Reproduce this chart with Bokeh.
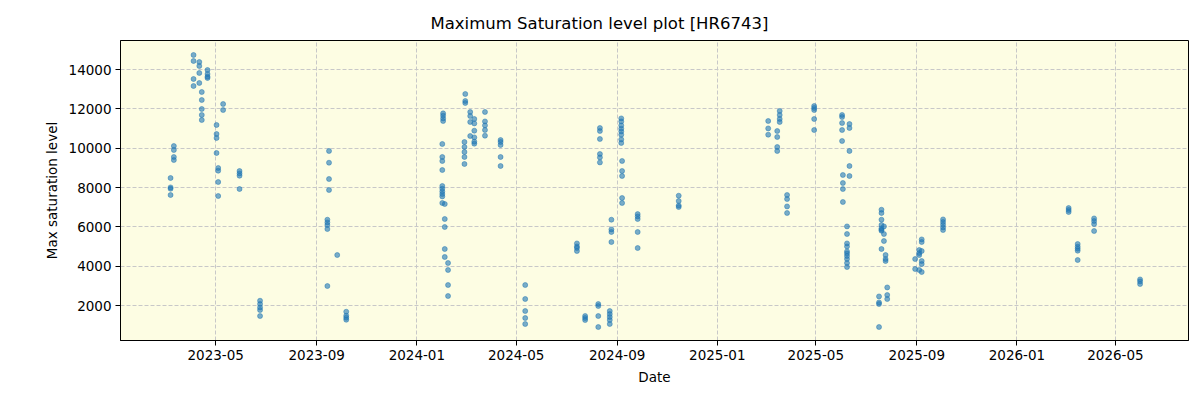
from datetime import datetime

from bokeh.plotting import figure
from bokeh.models import (ColumnDataSource, DatetimeTickFormatter, MonthsTicker,
                          FixedTicker, Range1d, Title)
from bokeh.embed import file_html
from bokeh.resources import INLINE

# Observation dates and their maximum saturation levels
dates = (
    ["2023-03-07"] * 4 + ["2023-03-11"] * 4 + ["2023-04-04"] * 4 + ["2023-04-11"] * 4
    + ["2023-04-14"] * 5 + ["2023-04-21"] * 4 + ["2023-05-02"] * 4 + ["2023-05-04"] * 4
    + ["2023-05-10"] * 2 + ["2023-05-30"] * 4 + ["2023-06-24"] * 5
    + ["2023-09-14"] * 5 + ["2023-09-16"] * 4 + ["2023-09-26"] + ["2023-10-07"] * 4
    + ["2024-02-01"] * 10 + ["2024-02-02"] * 4 + ["2024-02-04"] * 5 + ["2024-02-08"] * 4
    + ["2024-02-28"] * 5 + ["2024-02-29"] * 3 + ["2024-03-06"] * 4 + ["2024-03-11"] * 6
    + ["2024-03-24"] * 5 + ["2024-04-12"] * 5 + ["2024-05-12"] * 5
    + ["2024-07-14"] * 4 + ["2024-07-24"] * 3 + ["2024-08-09"] * 4 + ["2024-08-11"] * 6
    + ["2024-08-23"] * 5 + ["2024-08-25"] * 4 + ["2024-09-06"] * 8 + ["2024-09-07"] * 5
    + ["2024-09-26"] * 5 + ["2024-11-15"] * 4
    + ["2025-03-04"] * 3 + ["2025-03-15"] * 4 + ["2025-03-18"] * 4 + ["2025-03-27"] * 4
    + ["2025-04-29"] * 5 + ["2025-06-02"] * 5 + ["2025-06-03"] * 4 + ["2025-06-08"] * 10
    + ["2025-06-11"] * 5 + ["2025-07-17"] * 4 + ["2025-07-20"] * 8 + ["2025-07-23"] * 3
    + ["2025-07-25"] * 3 + ["2025-07-27"] * 3 + ["2025-08-30"] * 2 + ["2025-09-04"] * 4
    + ["2025-09-07"] * 6 + ["2025-10-03"] * 5
    + ["2026-03-05"] * 3 + ["2026-03-16"] * 5 + ["2026-04-05"] * 4 + ["2026-05-31"] * 3
)

levels = [
    8490, 8013, 7946, 7625,
    10117, 9913, 9558, 9405,
    14743, 14438, 13523, 13167,
    14387, 14184, 13828, 13320,
    12862, 12456, 11998, 11693, 11439,
    13981, 13777, 13640, 13574,
    11185, 10727, 10524, 9761,
    8998, 8861, 8287, 7575,
    12252, 11947,
    8846, 8724, 8607, 7931,
    2252, 2084, 1912, 1779, 1474,
    6370, 6233, 6101, 5897, 2999,
    9863, 9268, 8439, 7880,
    4575,
    1693, 1490, 1388, 1286,
    10219, 9558, 9354, 8897, 8083, 7946, 7809, 7677, 7555, 7219,
    11776, 11658, 11520, 11388,
    7168, 6406, 6000, 4881, 4474,
    4169, 3813, 3050, 2491,
    10320, 10066, 9812, 9558, 9202,
    12761, 12405, 12303,
    11846, 11642, 11337, 10625,
    11490, 11266, 10895, 10554, 10335, 10234,
    11846, 11367, 11164, 10930, 10641,
    10422, 10320, 10168, 9558, 9100,
    3050, 2339, 1729, 1373, 1068,
    5165, 5013, 4931, 4779,
    1474, 1373, 1271,
    2084, 1983, 1474, 915,
    11032, 10880, 10473, 9710, 9538, 9283,
    1729, 1576, 1424, 1271, 1068,
    6370, 5877, 5745, 5236,
    11520, 11367, 11164, 10997, 10860, 10692, 10453, 10270,
    9354, 8846, 8592, 7473, 7219,
    6655, 6538, 6406, 5745, 4931,
    7590, 7321, 7090, 7016,
    11388, 11012, 10692,
    10880, 10575, 10066, 9863,
    11897, 11693, 11490, 11337,
    7626, 7422, 7046, 6711,
    12150, 12049, 11947, 11490, 10930,
    11693, 11592, 11286, 10930, 10371,
    8643, 8236, 7931, 7270,
    6030, 5643, 5165, 5013, 4759, 4657, 4525, 4372, 4169, 3965,
    11235, 11032, 9863, 9100, 8592,
    915, 2084, 2166, 2471,
    6878, 6711, 6370, 6101, 5929, 5862, 5811, 4881,
    6030, 5643, 5287,
    4575, 4372, 4270,
    2928, 2542, 2339,
    4372, 3864,
    4830, 4677, 4575, 3813,
    5369, 5236, 4779, 4270, 4118, 3711,
    6386, 6253, 6116, 5979, 5846,
    6965, 6863, 6762,
    5135, 4998, 4896, 4794, 4321,
    6436, 6304, 6152, 5796,
    3335, 3233, 3101,
]

x_start, x_end = "2023-01-05", "2026-07-29"
y_start, y_end = 230, 15480
y_ticks = [2000, 4000, 6000, 8000, 10000, 12000, 14000]
# tick months (zero-based as BokehJS counts them): January, May, September
tick_months = [0, 4, 8]

FONT = "DejaVu Sans"

source = ColumnDataSource(data=dict(
    date=[datetime.strptime(d, "%Y-%m-%d") for d in dates],
    level=levels,
))

p = figure(
    width=1200, height=400,
    x_axis_type="datetime",
    x_range=Range1d(datetime.strptime(x_start, "%Y-%m-%d"),
                    datetime.strptime(x_end, "%Y-%m-%d")),
    y_range=Range1d(y_start, y_end),
    output_backend="svg", toolbar_location=None,
    min_border_left=120, min_border_right=12,
    min_border_top=40, min_border_bottom=60,
)

p.title = None
p.add_layout(Title(text="Maximum Saturation level plot [HR6743]", align="left",
                   offset=310, text_font=FONT, text_font_size="16.5px",
                   text_font_style="normal", text_color="black",
                   standoff=16), "above")

p.background_fill_color = "#fdfde3"
p.border_fill_color = "white"
p.outline_line_color = "black"
p.outline_line_width = 1

p.scatter("date", "level", source=source, size=5,
          fill_color="#1f77b4", fill_alpha=0.6,
          line_color="#1f77b4", line_alpha=0.6, line_width=0.8)

p.xaxis.ticker = MonthsTicker(months=tick_months)
p.xaxis.formatter = DatetimeTickFormatter(months="%Y-%m", days="%Y-%m", years="%Y-%m")
p.yaxis.ticker = FixedTicker(ticks=y_ticks)

p.xaxis.axis_label = "Date"
p.yaxis.axis_label = "Max saturation level"

for ax in (p.xaxis, p.yaxis):
    ax.axis_label_text_font = FONT
    ax.axis_label_text_font_size = "13.5px"
    ax.axis_label_text_font_style = "normal"
    ax.axis_label_text_color = "black"
    ax.major_label_text_font = FONT
    ax.major_label_text_font_size = "13.5px"
    ax.major_label_text_color = "black"
    ax.axis_line_color = "black"
    ax.major_tick_line_color = "black"
    ax.major_tick_out = 5
    ax.major_tick_in = 0
    ax.minor_tick_line_color = None
    ax.axis_label_standoff = 6
    ax.major_label_standoff = 4

p.xgrid.ticker = p.xaxis.ticker
p.ygrid.ticker = p.yaxis.ticker
for g in (p.xgrid, p.ygrid):
    g.grid_line_color = "#c8c8c8"
    g.grid_line_dash = "4 2"
    g.grid_line_width = 1

open("out.html", "w").write(file_html(p, INLINE))
